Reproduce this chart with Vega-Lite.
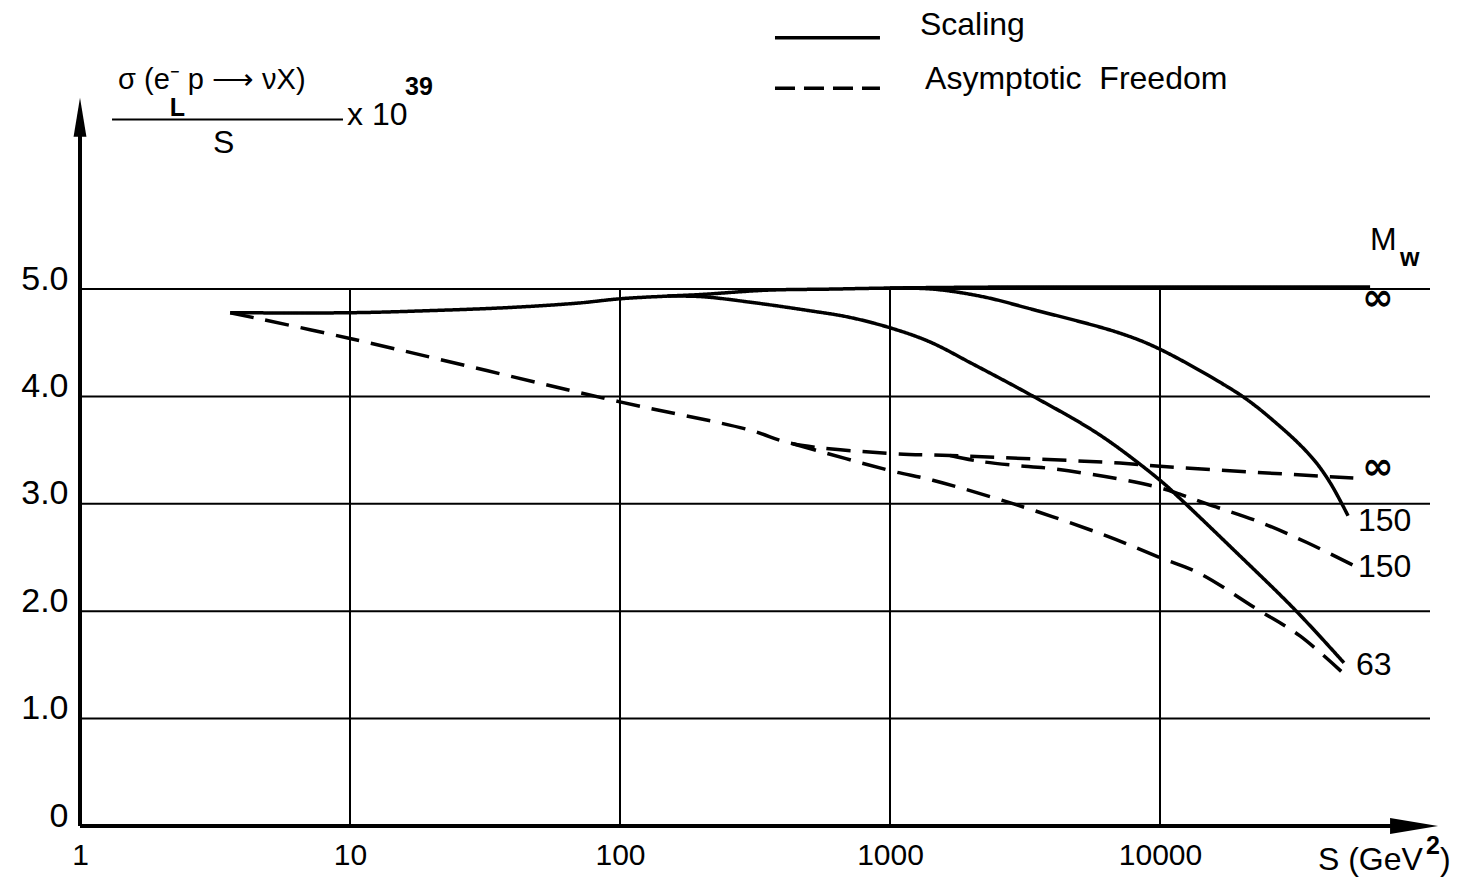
{
  "$schema": "https://vega.github.io/schema/vega-lite/v6.json",
  "width": 1350,
  "height": 815,
  "autosize": {"type": "none"},
  "padding": {"left": 80, "top": 11, "right": 42, "bottom": 54},
  "background": "white",
  "config": {
    "view": {"stroke": null},
    "font": "Liberation Sans",
    "text": {"font": "Liberation Sans", "color": "black"},
    "axis": {"labelColor": "black", "labelFont": "Liberation Sans"}
  },
  "datasets": {
    "hgrid": [{"v": 1}, {"v": 2}, {"v": 3}, {"v": 4}, {"v": 5}],
    "vgrid": [{"S": 10}, {"S": 100}, {"S": 1000}, {"S": 10000}],
    "curves": [
      {"S": 3.6, "v": 4.78, "curve": "Scaling inf", "model": "Scaling"},
      {"S": 10, "v": 4.78, "curve": "Scaling inf", "model": "Scaling"},
      {"S": 20, "v": 4.80, "curve": "Scaling inf", "model": "Scaling"},
      {"S": 40, "v": 4.83, "curve": "Scaling inf", "model": "Scaling"},
      {"S": 70, "v": 4.87, "curve": "Scaling inf", "model": "Scaling"},
      {"S": 100, "v": 4.91, "curve": "Scaling inf", "model": "Scaling"},
      {"S": 150, "v": 4.935, "curve": "Scaling inf", "model": "Scaling"},
      {"S": 200, "v": 4.95, "curve": "Scaling inf", "model": "Scaling"},
      {"S": 350, "v": 4.99, "curve": "Scaling inf", "model": "Scaling"},
      {"S": 600, "v": 5.0, "curve": "Scaling inf", "model": "Scaling"},
      {"S": 1000, "v": 5.01, "curve": "Scaling inf", "model": "Scaling"},
      {"S": 3000, "v": 5.02, "curve": "Scaling inf", "model": "Scaling"},
      {"S": 10000, "v": 5.02, "curve": "Scaling inf", "model": "Scaling"},
      {"S": 60000, "v": 5.02, "curve": "Scaling inf", "model": "Scaling"},

      {"S": 1000, "v": 5.01, "curve": "Scaling 150", "model": "Scaling"},
      {"S": 1443, "v": 5.0, "curve": "Scaling 150", "model": "Scaling"},
      {"S": 2200, "v": 4.93, "curve": "Scaling 150", "model": "Scaling"},
      {"S": 3385, "v": 4.81, "curve": "Scaling 150", "model": "Scaling"},
      {"S": 7100, "v": 4.59, "curve": "Scaling 150", "model": "Scaling"},
      {"S": 10000, "v": 4.44, "curve": "Scaling 150", "model": "Scaling"},
      {"S": 18600, "v": 4.06, "curve": "Scaling 150", "model": "Scaling"},
      {"S": 22100, "v": 3.93, "curve": "Scaling 150", "model": "Scaling"},
      {"S": 27000, "v": 3.75, "curve": "Scaling 150", "model": "Scaling"},
      {"S": 33000, "v": 3.55, "curve": "Scaling 150", "model": "Scaling"},
      {"S": 38000, "v": 3.38, "curve": "Scaling 150", "model": "Scaling"},
      {"S": 42600, "v": 3.20, "curve": "Scaling 150", "model": "Scaling"},
      {"S": 46500, "v": 3.03, "curve": "Scaling 150", "model": "Scaling"},
      {"S": 49700, "v": 2.89, "curve": "Scaling 150", "model": "Scaling"},

      {"S": 150, "v": 4.935, "curve": "Scaling 63", "model": "Scaling"},
      {"S": 200, "v": 4.93, "curve": "Scaling 63", "model": "Scaling"},
      {"S": 300, "v": 4.88, "curve": "Scaling 63", "model": "Scaling"},
      {"S": 500, "v": 4.80, "curve": "Scaling 63", "model": "Scaling"},
      {"S": 700, "v": 4.74, "curve": "Scaling 63", "model": "Scaling"},
      {"S": 1000, "v": 4.64, "curve": "Scaling 63", "model": "Scaling"},
      {"S": 1400, "v": 4.51, "curve": "Scaling 63", "model": "Scaling"},
      {"S": 2000, "v": 4.31, "curve": "Scaling 63", "model": "Scaling"},
      {"S": 3400, "v": 4.0, "curve": "Scaling 63", "model": "Scaling"},
      {"S": 6000, "v": 3.64, "curve": "Scaling 63", "model": "Scaling"},
      {"S": 10000, "v": 3.22, "curve": "Scaling 63", "model": "Scaling"},
      {"S": 11860, "v": 3.05, "curve": "Scaling 63", "model": "Scaling"},
      {"S": 18600, "v": 2.58, "curve": "Scaling 63", "model": "Scaling"},
      {"S": 32000, "v": 2.0, "curve": "Scaling 63", "model": "Scaling"},
      {"S": 48000, "v": 1.52, "curve": "Scaling 63", "model": "Scaling"},

      {"S": 3.6, "v": 4.78, "curve": "AF inf", "model": "Asymptotic Freedom"},
      {"S": 10, "v": 4.54, "curve": "AF inf", "model": "Asymptotic Freedom"},
      {"S": 100, "v": 3.95, "curve": "AF inf", "model": "Asymptotic Freedom"},
      {"S": 300, "v": 3.69, "curve": "AF inf", "model": "Asymptotic Freedom"},
      {"S": 437, "v": 3.56, "curve": "AF inf", "model": "Asymptotic Freedom"},
      {"S": 1000, "v": 3.47, "curve": "AF inf", "model": "Asymptotic Freedom"},
      {"S": 1670, "v": 3.45, "curve": "AF inf", "model": "Asymptotic Freedom"},
      {"S": 7100, "v": 3.38, "curve": "AF inf", "model": "Asymptotic Freedom"},
      {"S": 10000, "v": 3.35, "curve": "AF inf", "model": "Asymptotic Freedom"},
      {"S": 52000, "v": 3.24, "curve": "AF inf", "model": "Asymptotic Freedom"},

      {"S": 1670, "v": 3.45, "curve": "AF 150", "model": "Asymptotic Freedom"},
      {"S": 2100, "v": 3.40, "curve": "AF 150", "model": "Asymptotic Freedom"},
      {"S": 2855, "v": 3.36, "curve": "AF 150", "model": "Asymptotic Freedom"},
      {"S": 3916, "v": 3.33, "curve": "AF 150", "model": "Asymptotic Freedom"},
      {"S": 7100, "v": 3.23, "curve": "AF 150", "model": "Asymptotic Freedom"},
      {"S": 10000, "v": 3.15, "curve": "AF 150", "model": "Asymptotic Freedom"},
      {"S": 11860, "v": 3.09, "curve": "AF 150", "model": "Asymptotic Freedom"},
      {"S": 14930, "v": 3.0, "curve": "AF 150", "model": "Asymptotic Freedom"},
      {"S": 23450, "v": 2.83, "curve": "AF 150", "model": "Asymptotic Freedom"},
      {"S": 35000, "v": 2.64, "curve": "AF 150", "model": "Asymptotic Freedom"},
      {"S": 52700, "v": 2.42, "curve": "AF 150", "model": "Asymptotic Freedom"},

      {"S": 437, "v": 3.56, "curve": "AF 63", "model": "Asymptotic Freedom"},
      {"S": 1000, "v": 3.31, "curve": "AF 63", "model": "Asymptotic Freedom"},
      {"S": 1440, "v": 3.22, "curve": "AF 63", "model": "Asymptotic Freedom"},
      {"S": 2950, "v": 2.99, "curve": "AF 63", "model": "Asymptotic Freedom"},
      {"S": 6370, "v": 2.70, "curve": "AF 63", "model": "Asymptotic Freedom"},
      {"S": 10000, "v": 2.50, "curve": "AF 63", "model": "Asymptotic Freedom"},
      {"S": 14060, "v": 2.35, "curve": "AF 63", "model": "Asymptotic Freedom"},
      {"S": 22860, "v": 2.02, "curve": "AF 63", "model": "Asymptotic Freedom"},
      {"S": 33000, "v": 1.77, "curve": "AF 63", "model": "Asymptotic Freedom"},
      {"S": 49300, "v": 1.39, "curve": "AF 63", "model": "Asymptotic Freedom"}
    ],
    "labels": [
      {"S": 1291, "v": 7.46, "t": "Scaling"},
      {"S": 1349, "v": 6.96, "t": "Asymptotic\u00a0 Freedom"},
      {"S": 3.11, "v": 6.36, "t": "S"},
      {"S": 9.75, "v": 6.62, "t": "x 10"},
      {"S": 59900, "v": 5.46, "t": "M"},
      {"S": 54100, "v": 2.84, "t": "150"},
      {"S": 54100, "v": 2.41, "t": "150"},
      {"S": 53200, "v": 1.50, "t": "63"},
      {"S": 38460, "v": -0.32, "t": "S (GeV"},
      {"S": 108900, "v": -0.32, "t": ")"}
    ],
    "numer": [
      {"S": 1.383, "v": 6.95, "t": "σ (e⁻ p ⟶ νX)"}
    ],
    "small": [
      {"S": 2.15, "v": 6.685, "t": "L"},
      {"S": 16.0, "v": 6.88, "t": "39"},
      {"S": 77400, "v": 5.29, "t": "w"},
      {"S": 96700, "v": -0.19, "t": "2"}
    ],
    "inf": [
      {"S": 56000, "v": 4.91, "t": "∞"},
      {"S": 56000, "v": 3.33, "t": "∞"}
    ]
  },
  "layer": [
    {
      "data": {"name": "hgrid"},
      "mark": {"type": "rule", "color": "black", "strokeWidth": 2},
      "encoding": {
        "x": {"datum": 1, "type": "quantitative", "scale": {"type": "log", "domain": [1, 100000], "nice": false}},
        "x2": {"datum": 100000},
        "y": {"field": "v", "type": "quantitative", "scale": {"domain": [0, 7.59], "nice": false, "zero": false}}
      }
    },
    {
      "data": {"name": "vgrid"},
      "mark": {"type": "rule", "color": "black", "strokeWidth": 2},
      "encoding": {
        "x": {"field": "S", "type": "quantitative", "scale": {"type": "log", "domain": [1, 100000], "nice": false}},
        "y": {"datum": 0, "type": "quantitative", "scale": {"domain": [0, 7.59], "nice": false, "zero": false}},
        "y2": {"datum": 5}
      }
    },
    {
      "data": {"values": [{}]},
      "mark": {"type": "rule", "color": "black", "strokeWidth": 4},
      "encoding": {
        "x": {"datum": 1, "type": "quantitative", "scale": {"type": "log", "domain": [1, 100000], "nice": false}},
        "y": {"datum": 0, "type": "quantitative", "scale": {"domain": [0, 7.59], "nice": false, "zero": false}},
        "y2": {"datum": 6.6}
      }
    },
    {
      "data": {"values": [{}]},
      "mark": {"type": "rule", "color": "black", "strokeWidth": 4},
      "encoding": {
        "x": {"datum": 1, "type": "quantitative", "scale": {"type": "log", "domain": [1, 100000], "nice": false}},
        "x2": {"datum": 87300},
        "y": {"datum": 0, "type": "quantitative", "scale": {"domain": [0, 7.59], "nice": false, "zero": false}}
      }
    },
    {
      "data": {"values": [{}]},
      "mark": {"type": "point", "shape": "M0,-1L0.33,1L-0.33,1Z", "size": 1521, "filled": true, "color": "black", "opacity": 1, "strokeWidth": 0},
      "encoding": {
        "x": {"datum": 1, "type": "quantitative", "scale": {"type": "log", "domain": [1, 100000], "nice": false}},
        "y": {"datum": 6.6, "type": "quantitative", "scale": {"domain": [0, 7.59], "nice": false, "zero": false}}
      }
    },
    {
      "data": {"values": [{}]},
      "mark": {"type": "point", "shape": "M1,0L-1,-0.33L-1,0.33Z", "size": 2304, "filled": true, "color": "black", "opacity": 1, "strokeWidth": 0},
      "encoding": {
        "x": {"datum": 87300, "type": "quantitative", "scale": {"type": "log", "domain": [1, 100000], "nice": false}},
        "y": {"datum": 0, "type": "quantitative", "scale": {"domain": [0, 7.59], "nice": false, "zero": false}}
      }
    },
    {
      "data": {"name": "curves"},
      "mark": {"type": "line", "color": "black", "strokeWidth": 3.5, "interpolate": "catmull-rom"},
      "encoding": {
        "x": {
          "field": "S", "type": "quantitative",
          "scale": {"type": "log", "domain": [1, 100000], "nice": false},
          "axis": {"values": [1, 10, 100, 1000, 10000], "format": "d", "domain": false, "ticks": false, "grid": false, "labelFontSize": 30, "labelPadding": 14, "title": null, "labelFlush": false, "labelOverlap": false}
        },
        "y": {
          "field": "v", "type": "quantitative",
          "scale": {"domain": [0, 7.59], "nice": false, "zero": false},
          "axis": {"values": [0, 1, 2, 3, 4, 5], "labelExpr": "datum.value == 0 ? '0' : format(datum.value, '.1f')", "domain": false, "ticks": false, "grid": false, "labelFontSize": 34, "labelPadding": 12, "labelBaseline": "alphabetic", "title": null, "labelFlush": false, "labelOverlap": false}
        },
        "detail": {"field": "curve"},
        "strokeDash": {"field": "model", "type": "nominal", "scale": {"domain": ["Scaling", "Asymptotic Freedom"], "range": [[1, 0], [24, 12]]}, "legend": null}
      }
    },
    {
      "data": {"values": [{}]},
      "mark": {"type": "rule", "color": "black", "strokeWidth": 3.5},
      "encoding": {
        "x": {"datum": 375, "type": "quantitative", "scale": {"type": "log", "domain": [1, 100000], "nice": false}},
        "x2": {"datum": 918},
        "y": {"datum": 7.34, "type": "quantitative", "scale": {"domain": [0, 7.59], "nice": false, "zero": false}}
      }
    },
    {
      "data": {"values": [{}]},
      "mark": {"type": "rule", "color": "black", "strokeWidth": 3.5, "strokeDash": [20, 9]},
      "encoding": {
        "x": {"datum": 375, "type": "quantitative", "scale": {"type": "log", "domain": [1, 100000], "nice": false}},
        "x2": {"datum": 918},
        "y": {"datum": 6.87, "type": "quantitative", "scale": {"domain": [0, 7.59], "nice": false, "zero": false}}
      }
    },
    {
      "data": {"values": [{}]},
      "mark": {"type": "rule", "color": "black", "strokeWidth": 2},
      "encoding": {
        "x": {"datum": 1.314, "type": "quantitative", "scale": {"type": "log", "domain": [1, 100000], "nice": false}},
        "x2": {"datum": 9.42},
        "y": {"datum": 6.58, "type": "quantitative", "scale": {"domain": [0, 7.59], "nice": false, "zero": false}}
      }
    },
    {
      "data": {"name": "labels"},
      "mark": {"type": "text", "align": "left", "baseline": "middle", "fontSize": 32, "font": "Liberation Sans", "color": "black"},
      "encoding": {
        "x": {"field": "S", "type": "quantitative", "scale": {"type": "log", "domain": [1, 100000], "nice": false}},
        "y": {"field": "v", "type": "quantitative", "scale": {"domain": [0, 7.59], "nice": false, "zero": false}},
        "text": {"field": "t"}
      }
    },
    {
      "data": {"name": "numer"},
      "mark": {"type": "text", "align": "left", "baseline": "middle", "fontSize": 29, "font": "Liberation Sans", "color": "black"},
      "encoding": {
        "x": {"field": "S", "type": "quantitative", "scale": {"type": "log", "domain": [1, 100000], "nice": false}},
        "y": {"field": "v", "type": "quantitative", "scale": {"domain": [0, 7.59], "nice": false, "zero": false}},
        "text": {"field": "t"}
      }
    },
    {
      "data": {"name": "small"},
      "mark": {"type": "text", "align": "left", "baseline": "middle", "fontSize": 25, "font": "Liberation Sans", "fontWeight": "bold", "color": "black"},
      "encoding": {
        "x": {"field": "S", "type": "quantitative", "scale": {"type": "log", "domain": [1, 100000], "nice": false}},
        "y": {"field": "v", "type": "quantitative", "scale": {"domain": [0, 7.59], "nice": false, "zero": false}},
        "text": {"field": "t"}
      }
    },
    {
      "data": {"name": "inf"},
      "mark": {"type": "text", "align": "left", "baseline": "middle", "fontSize": 38, "font": "DejaVu Sans", "fontWeight": "bold", "color": "black"},
      "encoding": {
        "x": {"field": "S", "type": "quantitative", "scale": {"type": "log", "domain": [1, 100000], "nice": false}},
        "y": {"field": "v", "type": "quantitative", "scale": {"domain": [0, 7.59], "nice": false, "zero": false}},
        "text": {"field": "t"}
      }
    }
  ]
}
